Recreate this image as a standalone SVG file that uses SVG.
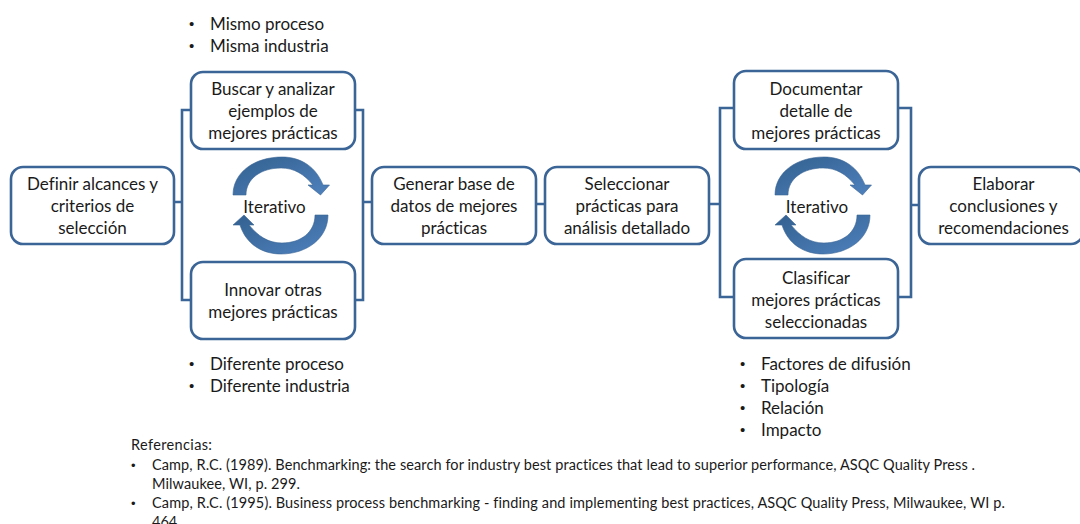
<svg xmlns="http://www.w3.org/2000/svg" width="1080" height="524" viewBox="0 0 1080 524">
<style>
text{font-family:"Lato","Carlito","Noto Sans",sans-serif;fill:#1a1a1a;font-variant-ligatures:none}
.n{font-size:17px;text-anchor:middle}
.b{font-size:17px}
.d{font-family:"Liberation Sans",sans-serif;font-size:15px}
.r{font-size:14.5px}
.q{font-family:"Liberation Sans",sans-serif;font-size:13px}
.box{fill:#fff;stroke:#3b6596;stroke-width:2.6}
.c{fill:none;stroke:#3b6596;stroke-width:2.6}
.a{fill:url(#g);stroke:#3a6595;stroke-width:.6}
</style>
<defs>
<linearGradient id="g" x1="0" y1="0" x2="1" y2="1"><stop offset="0" stop-color="#32608f"/><stop offset="1" stop-color="#4f81bd"/></linearGradient>
<path id="top" d="M233 195C233 172 255 157 282 157C301 157 316 167 323 185L329.500 185L320.500 195L308 185L313 185C304 174 294 168 281 168C262 168 246 178 246 195Z"/>
<path id="bot" d="M328 215C328 238 307 254 281 254C262 254 246 244 240 225L233 225L244 215L254 225L249 225C258 236 268 243 282 243C301 243 315 232 315 215Z"/>
</defs>
<rect width="1080" height="524" fill="#fff"/>
<g id="connectors">
<path class="c" d="M174 202H182M191 110H182V300H191M355 110H363V300H355M363 202H372M536 204H545M709 204H720M734 108H720V297H734M898 108H911V297H898M911 205H919"/>
</g>
<g id="n1"><rect class="box" x="11" y="167" width="163" height="77" rx="12"/><text class="n" x="92.500" y="189.700">Definir alcances y</text><text class="n" x="92.500" y="211.700">criterios de</text><text class="n" x="92.500" y="233.700">selección</text></g>
<g id="n2"><rect class="box" x="191" y="72" width="164" height="77" rx="12"/><text class="n" x="273" y="94.700">Buscar y analizar</text><text class="n" x="273" y="116.700">ejemplos de</text><text class="n" x="273" y="138.700">mejores prácticas</text></g>
<g id="n3"><rect class="box" x="191" y="262" width="164" height="77" rx="12"/><text class="n" x="273" y="295.700">Innovar otras</text><text class="n" x="273" y="317.700">mejores prácticas</text></g>
<g id="n4"><rect class="box" x="372" y="167" width="164" height="77" rx="12"/><text class="n" x="454" y="189.700">Generar base de</text><text class="n" x="454" y="211.700">datos de mejores</text><text class="n" x="454" y="233.700">prácticas</text></g>
<g id="n5"><rect class="box" x="545" y="167" width="164" height="77" rx="12"/><text class="n" x="627" y="189.700">Seleccionar</text><text class="n" x="627" y="211.700">prácticas para</text><text class="n" x="627" y="233.700">análisis detallado</text></g>
<g id="n6"><rect class="box" x="734" y="71" width="164" height="78" rx="12"/><text class="n" x="816" y="94.700">Documentar</text><text class="n" x="816" y="116.700">detalle de</text><text class="n" x="816" y="138.700">mejores prácticas</text></g>
<g id="n7"><rect class="box" x="734" y="259" width="164" height="79" rx="12"/><text class="n" x="816" y="283.700">Clasificar</text><text class="n" x="816" y="305.700">mejores prácticas</text><text class="n" x="816" y="327.700">seleccionadas</text></g>
<g id="n8"><rect class="box" x="919" y="167" width="164" height="77" rx="12"/><text class="n" x="1003.500" y="189.700">Elaborar</text><text class="n" x="1003.500" y="211.700">conclusiones y</text><text class="n" x="1003.500" y="233.700">recomendaciones</text></g>
<g id="iter1"><use href="#top" class="a"/><use href="#bot" class="a"/><text class="n" x="274.500" y="213">Iterativo</text></g>
<g id="iter2"><use href="#top" class="a" x="542"/><use href="#bot" class="a" x="542"/><text class="n" x="817" y="213">Iterativo</text></g>
<g id="bullets1"><text class="d" x="189" y="29">•</text><text class="b" x="210" y="29.700">Mismo proceso</text><text class="d" x="189" y="51">•</text><text class="b" x="210" y="51.700">Misma industria</text></g>
<g id="bullets2"><text class="d" x="189" y="369">•</text><text class="b" x="210" y="369.700">Diferente proceso</text><text class="d" x="189" y="391">•</text><text class="b" x="210" y="391.700">Diferente industria</text></g>
<g id="bullets3"><text class="d" x="740" y="369">•</text><text class="b" x="761" y="369.700">Factores de difusión</text><text class="d" x="740" y="391">•</text><text class="b" x="761" y="391.700">Tipología</text><text class="d" x="740" y="413">•</text><text class="b" x="761" y="413.700">Relación</text><text class="d" x="740" y="435">•</text><text class="b" x="761" y="435.700">Impacto</text></g>
<g id="refs"><text class="r" x="131" y="450" textLength="81">Referencias:</text><text class="q" x="131" y="470">•</text><text class="r" x="152" y="470" textLength="823">Camp, R.C. (1989). Benchmarking: the search for industry best practices that lead to superior performance, ASQC Quality Press .</text><text class="r" x="152" y="489" textLength="148">Milwaukee, WI, p. 299.</text><text class="q" x="131" y="508">•</text><text class="r" x="152" y="508" textLength="853">Camp, R.C. (1995). Business process benchmarking - finding and implementing best practices, ASQC Quality Press, Milwaukee, WI p.</text><text class="r" x="152" y="527">464</text></g>
</svg>
